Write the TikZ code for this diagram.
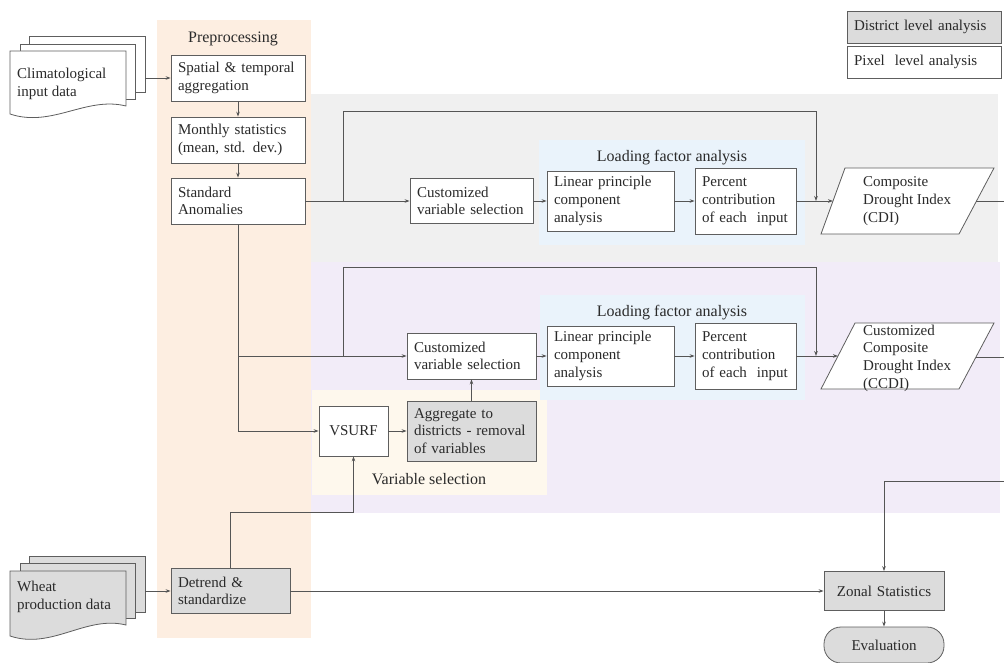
\documentclass[tikz,border=0pt]{standalone}
\usepackage{fontspec}
\setmainfont{Liberation Serif}
\usetikzlibrary{arrows.meta}
\definecolor{lc}{HTML}{555555}
\definecolor{bc}{HTML}{5E5E5E}
\definecolor{txt}{HTML}{2A2A2A}
\definecolor{orangebg}{HTML}{FDEEE1}
\definecolor{graybg}{HTML}{F0F0F0}
\definecolor{lavbg}{HTML}{F2ECF8}
\definecolor{creambg}{HTML}{FEF8ED}
\definecolor{bluebg}{HTML}{EAF3FB}
\definecolor{boxgray}{HTML}{DCDCDC}
\tikzset{
  box/.style={draw=bc, fill=white, line width=0.8pt, inner xsep=7pt, inner ysep=0pt,
    align=left, text=txt, font=\fontsize{15}{17.7}\selectfont},
  gbox/.style={box, fill=boxgray},
  plain/.style={text=txt, inner sep=0pt, align=left, font=\fontsize{15}{17.7}\selectfont},
  ttl/.style={text=txt, inner sep=0pt, font=\fontsize{16}{19}\selectfont},
  arr/.style={draw=lc, line width=0.8pt, -{Stealth[length=5pt,width=3.6pt]}},
  ln/.style={draw=lc, line width=0.8pt},
  sheet/.style={draw=bc, line width=0.8pt},
}
\begin{document}
\begin{tikzpicture}[x=1pt,y=-1pt]
\useasboundingbox (0,0) rectangle (1004,663);
% background bands
\fill[orangebg] (157,20) rectangle (311,638);
\fill[graybg] (311,94) rectangle (998,262);
\fill[lavbg] (311,262) rectangle (1000,513);
\fill[creambg] (312,390) rectangle (547,495);
\fill[bluebg] (539,140) rectangle (805,245);
\fill[bluebg] (540,295) rectangle (805,400);
% titles
\node[ttl] (tpre) at (233,39) {Preprocessing};
\node[ttl] (tlf1) at (672,158) {Loading factor analysis};
\node[ttl] (tlf2) at (672,313) {Loading factor analysis};
\node[ttl] (tvs) at (429,479) {Variable selection};
% document stacks
\draw[sheet, fill=white] (29,36) rectangle (145,92);
\draw[sheet, fill=white] (20,44) rectangle (135,99);
\draw[sheet, fill=white] (10,51) -- (126,51) -- (126,106) .. controls (86,96) and (52,128) .. (10,114) -- cycle;
\node[plain, anchor=west] (clim) at (17,84) {Climatological\\input data};
\draw[sheet, fill=boxgray] (29,556) rectangle (145,612);
\draw[sheet, fill=boxgray] (20,563) rectangle (135,618);
\draw[sheet, fill=boxgray] (10,571) -- (126,571) -- (126,625) .. controls (86,615) and (52,650) .. (10,636) -- cycle;
\node[plain, anchor=west] (wheat) at (17,597) {Wheat\\production data};
\coordinate (climR) at (145,78);
\coordinate (wheatR) at (145,591);
% preprocessing boxes
\node[box, text width=120pt, minimum height=46pt] (spat) at (238,78) {Spatial \& temporal\\aggregation};
\node[box, text width=120pt, minimum height=46pt] (month) at (238,140) {Monthly statistics\\(mean, std. dev.)};
\node[box, text width=120pt, minimum height=46pt] (stdan) at (238,201) {Standard\\Anomalies};
\node[gbox, text width=105pt, minimum height=45pt] (detr) at (230.5,591) {Detrend \&\\standardize};
% row 1
\node[box, text width=109pt, minimum height=45pt] (cvs1) at (471.5,201) {Customized\\variable selection};
\node[box, text width=113pt, minimum height=60pt] (lpca1) at (610.5,201) {Linear principle\\component\\analysis};
\node[box, text width=87pt, minimum height=66pt] (pc1) at (745.5,201) {Percent\\contribution\\of each\ \ input};
\draw[bc, line width=0.8pt, fill=white] (821,234) -- (845,168) -- (994,168) -- (959,234) -- cycle;
\node[plain, anchor=west] (cdi) at (863,201) {Composite\\Drought Index\\(CDI)};
% row 2
\node[box, text width=115pt, minimum height=46pt] (cvs2) at (471.5,356) {Customized\\variable selection};
\node[box, text width=113pt, minimum height=60pt] (lpca2) at (610.5,356) {Linear principle\\component\\analysis};
\node[box, text width=87pt, minimum height=66pt] (pc2) at (745.5,356) {Percent\\contribution\\of each\ \ input};
\draw[bc, line width=0.8pt, fill=white] (821,389) -- (855,323) -- (994,323) -- (959,389) -- cycle;
\node[plain, anchor=west] (ccdi) at (863,358) {Customized\\Composite\\Drought Index\\(CCDI)};
% variable selection
\node[box, align=center, text width=55pt, minimum height=50pt] (vsurf) at (353.5,431) {VSURF};
\node[gbox, text width=115pt, minimum height=60pt] (aggr) at (471.5,431) {Aggregate to\\districts - removal\\of variables};
% bottom right
\node[gbox, align=center, text width=106pt, minimum height=39pt] (zonal) at (884,591) {Zonal Statistics};
\node[gbox, align=center, text width=106pt, minimum height=36pt, rounded corners=17pt] (eval) at (884,645) {Evaluation};
% legend
\node[gbox, text width=140pt, minimum height=32pt] (leg1) at (924,27) {District level analysis};
\node[box, text width=140pt, minimum height=32pt] (leg2) at (924,62) {Pixel\ \ level analysis};
% coordinates
\coordinate (b1) at (343,201);
\coordinate (t1R) at (816,111);
\coordinate (j1) at (816,201);
\coordinate (b2) at (343,356);
\coordinate (t2R) at (816,267);
\coordinate (j2) at (816,356);
\coordinate (b3) at (238,356);
\coordinate (cdiL) at (833,201);
\coordinate (cdiR) at (976,201);
\coordinate (e1) at (1004,201);
\coordinate (ccdiL) at (838,356);
\coordinate (ccdiR) at (976,357);
\coordinate (e2) at (1004,357);
\coordinate (d1) at (230.5,512);
\coordinate (r3) at (1004,481);
% connectors
\draw[arr] (climR) -- (spat.west);
\draw[arr] (wheatR) -- (detr.west);
\draw[arr] (spat) -- (month);
\draw[arr] (month) -- (stdan);
\draw[arr] (stdan) -- (cvs1);
\draw[arr] (cvs1) -- (lpca1);
\draw[arr] (lpca1) -- (pc1);
\draw[arr] (pc1) -- (cdiL);
\draw[arr] (b1) |- (t1R) -- (j1);
\draw[ln] (cdiR) -- (e1);
\draw[arr] (stdan.south) |- (vsurf.west);
\draw[arr] (b3) -- (cvs2.west);
\draw[arr] (cvs2) -- (lpca2);
\draw[arr] (lpca2) -- (pc2);
\draw[arr] (pc2) -- (ccdiL);
\draw[arr] (b2) |- (t2R) -- (j2);
\draw[ln] (ccdiR) -- (e2);
\draw[arr] (vsurf) -- (aggr);
\draw[arr] (aggr) -- (cvs2);
\draw[arr] (detr.north) -- (d1) -| (vsurf.south);
\draw[arr] (detr.east) -- (zonal.west);
\draw[arr] (r3) -| (zonal.north);
\draw[arr] (zonal) -- (eval);
\end{tikzpicture}
\end{document}
